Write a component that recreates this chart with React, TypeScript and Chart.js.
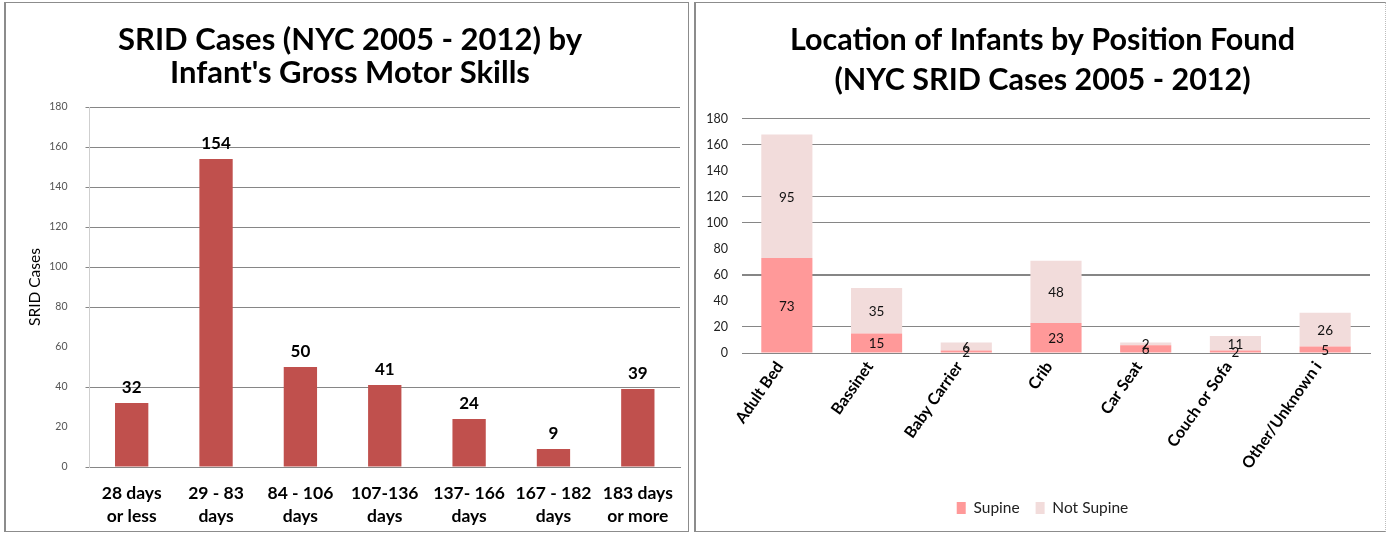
import React, { useEffect, useRef } from 'react';
import { Chart, registerables } from 'chart.js';

Chart.register(...registerables);

// ---------- data ----------
const skillCategories: string[][] = [
  ['28 days', 'or less'],
  ['29 - 83', 'days'],
  ['84 - 106', 'days'],
  ['107-136', 'days'],
  ['137- 166', 'days'],
  ['167 - 182', 'days'],
  ['183 days', 'or more'],
];
const skillCases = [32, 154, 50, 41, 24, 9, 39];

const locationCategories = [
  'Adult Bed',
  'Bassinet',
  'Baby Carrier',
  'Crib',
  'Car Seat',
  'Couch or Sofa',
  'Other/Unknown i',
];
const supineValues = [73, 15, 2, 23, 6, 2, 5];
const notSupineValues = [95, 35, 6, 48, 2, 11, 26];

const leftTitle = ['SRID Cases (NYC 2005 - 2012) by', "Infant's Gross Motor Skills"];
const rightTitle = ['Location of Infants by Position Found', '(NYC SRID Cases 2005 - 2012)'];

// gridline rendering quirks seen in the reference image
const leftFadedGrid = [20, 60];
const rightFadedGrid = [40, 80, 140];
const rightHeavyGrid = [60];

const FONT = 'Lato, "Open Sans", sans-serif';
const GRID = '#868686';

const leftLabelsPlugin = {
  id: 'leftLabels',
  afterDatasetsDraw(chart: any) {
    const { ctx } = chart;
    const meta = chart.getDatasetMeta(0);
    ctx.save();
    ctx.font = `bold 17px ${FONT}`;
    ctx.fillStyle = '#000';
    ctx.textAlign = 'center';
    ctx.textBaseline = 'alphabetic';
    meta.data.forEach((el: any, i: number) => {
      ctx.fillText(String(chart.data.datasets[0].data[i]), el.x, el.y - 10.5);
    });
    ctx.restore();
  },
};

const rightLabelsPlugin = {
  id: 'rightLabels',
  afterDatasetsDraw(chart: any) {
    const { ctx } = chart;
    ctx.save();
    ctx.font = `13.5px ${FONT}`;
    ctx.fillStyle = '#111';
    ctx.textAlign = 'center';
    ctx.textBaseline = 'middle';
    chart.data.datasets.forEach((ds: any, di: number) => {
      const meta = chart.getDatasetMeta(di);
      meta.data.forEach((el: any, i: number) => {
        ctx.fillText(String(ds.data[i]), el.x, (el.y + el.base) / 2 + 1);
      });
    });
    ctx.restore();
  },
};

function LeftChart() {
  const ref = useRef<HTMLCanvasElement>(null);
  useEffect(() => {
    const chart = new Chart(ref.current!, {
      type: 'bar',
      data: {
        labels: skillCategories as any,
        datasets: [
          {
            data: skillCases,
            backgroundColor: '#C0504D',
            barPercentage: 0.395,
            categoryPercentage: 1,
          },
        ],
      },
      options: {
        animation: false,
        responsive: false,
        layout: { padding: { left: 20, right: 12, top: 0, bottom: 0 } },
        plugins: {
          legend: { display: false },
          tooltip: { enabled: false },
          title: {
            display: true,
            text: leftTitle,
            color: '#000',
            font: { family: FONT, size: 31, weight: 'bold', lineHeight: 1.065 },
            padding: { top: 23.5, bottom: 17.5 },
          },
        },
        scales: {
          x: {
            grid: { display: false, drawTicks: false },
            border: { color: GRID },
            ticks: {
              color: '#000',
              font: { family: FONT, size: 17.5, weight: 'bold', lineHeight: 1.31 },
              padding: 14.5,
              maxRotation: 0,
              minRotation: 0,
              autoSkip: false,
            },
            afterFit(s: any) {
              s.height = 66;
            },
          },
          y: {
            min: 0,
            max: 180,
            ticks: {
              stepSize: 20,
              color: '#555',
              font: { family: FONT, size: 10.5 },
              padding: 18,
            },
            grid: {
              color: (c: any) => (leftFadedGrid.includes(c.tick?.value) ? 'rgba(0,0,0,0)' : GRID),
              tickLength: 4,
              drawTicks: true,
            },
            border: { color: '#cfcfcf' },
            title: {
              display: true,
              text: 'SRID Cases',
              color: '#000',
              font: { family: FONT, size: 15.5, lineHeight: 1.2 },
              padding: { top: 5.7, bottom: 0 },
            },
            afterFit(s: any) {
              s.width = 69.5;
            },
          },
        },
      } as any,
      plugins: [leftLabelsPlugin],
    });
    return () => chart.destroy();
  }, []);
  return (
    <canvas
      ref={ref}
      width={692}
      height={533}
      style={{ position: 'absolute', left: 0, top: 0, width: 692, height: 533 }}
    />
  );
}

function RightChart() {
  const ref = useRef<HTMLCanvasElement>(null);
  useEffect(() => {
    const chart = new Chart(ref.current!, {
      type: 'bar',
      data: {
        labels: locationCategories,
        datasets: [
          {
            label: 'Supine',
            data: supineValues,
            backgroundColor: '#FF9999',
            barPercentage: 0.57,
            categoryPercentage: 1,
          },
          {
            label: 'Not Supine',
            data: notSupineValues,
            backgroundColor: '#F2DCDB',
            barPercentage: 0.57,
            categoryPercentage: 1,
          },
        ],
      },
      options: {
        animation: false,
        responsive: false,
        layout: { padding: { left: 10, right: 6, top: 0, bottom: 7.25 } },
        plugins: {
          tooltip: { enabled: false },
          title: {
            display: true,
            text: rightTitle,
            color: '#000',
            font: { family: FONT, size: 30.5, weight: 'bold', lineHeight: 1.31 },
            padding: { top: 20, bottom: 19 },
          },
          legend: {
            position: 'bottom',
            labels: {
              color: '#222',
              font: { family: FONT, size: 15.5 },
              boxWidth: 9,
              boxHeight: 12,
              padding: 16,
            },
          },
        },
        scales: {
          x: {
            stacked: true,
            grid: { display: false, drawTicks: false },
            border: { color: GRID },
            ticks: {
              color: '#000',
              font: { family: FONT, size: 16, weight: 'bold' },
              padding: 5,
              labelOffset: -7,
              maxRotation: 55,
              minRotation: 55,
              autoSkip: false,
            },
            afterFit(s: any) {
              s.height = 131.25;
            },
          },
          y: {
            stacked: true,
            min: 0,
            max: 180,
            ticks: {
              stepSize: 20,
              color: '#222',
              font: { family: FONT, size: 12.5 },
              padding: 14,
            },
            grid: {
              color: (c: any) => (rightFadedGrid.includes(c.tick?.value) ? 'rgba(0,0,0,0)' : GRID),
              lineWidth: (c: any) => (rightHeavyGrid.includes(c.tick?.value) ? 2 : 1),
              drawTicks: false,
            },
            border: { display: false },
            afterFit(s: any) {
              s.width = 40;
            },
          },
          spacer: {
            position: 'right',
            display: true,
            grid: { display: false, drawTicks: false },
            border: { display: false },
            ticks: { display: false },
            afterFit(s: any) {
              s.width = 13;
            },
          },
        },
      } as any,
      plugins: [rightLabelsPlugin],
    });
    return () => chart.destroy();
  }, []);
  return (
    <canvas
      ref={ref}
      width={697}
      height={533}
      style={{ position: 'absolute', left: 692, top: 0, width: 697, height: 533 }}
    />
  );
}

export default function App() {
  return (
    <div
      style={{
        position: 'absolute',
        left: 0,
        top: 0,
        width: 1389,
        height: 533,
        background: '#fff',
        overflow: 'hidden',
      }}
    >
      <LeftChart />
      <RightChart />
      <div
        style={{
          position: 'absolute',
          left: 4,
          top: 2,
          width: 685,
          height: 530,
          boxSizing: 'border-box',
          border: '1px solid #8c8c8c',
          borderLeft: '2px solid #8c8c8c',
          pointerEvents: 'none',
        }}
      />
      <div
        style={{
          position: 'absolute',
          left: 694,
          top: 2,
          width: 692,
          height: 530,
          boxSizing: 'border-box',
          border: '1px solid #8c8c8c',
          borderLeft: '2px solid #8c8c8c',
          borderRight: '1px dotted #bdbdbd',
          pointerEvents: 'none',
        }}
      />
    </div>
  );
}
